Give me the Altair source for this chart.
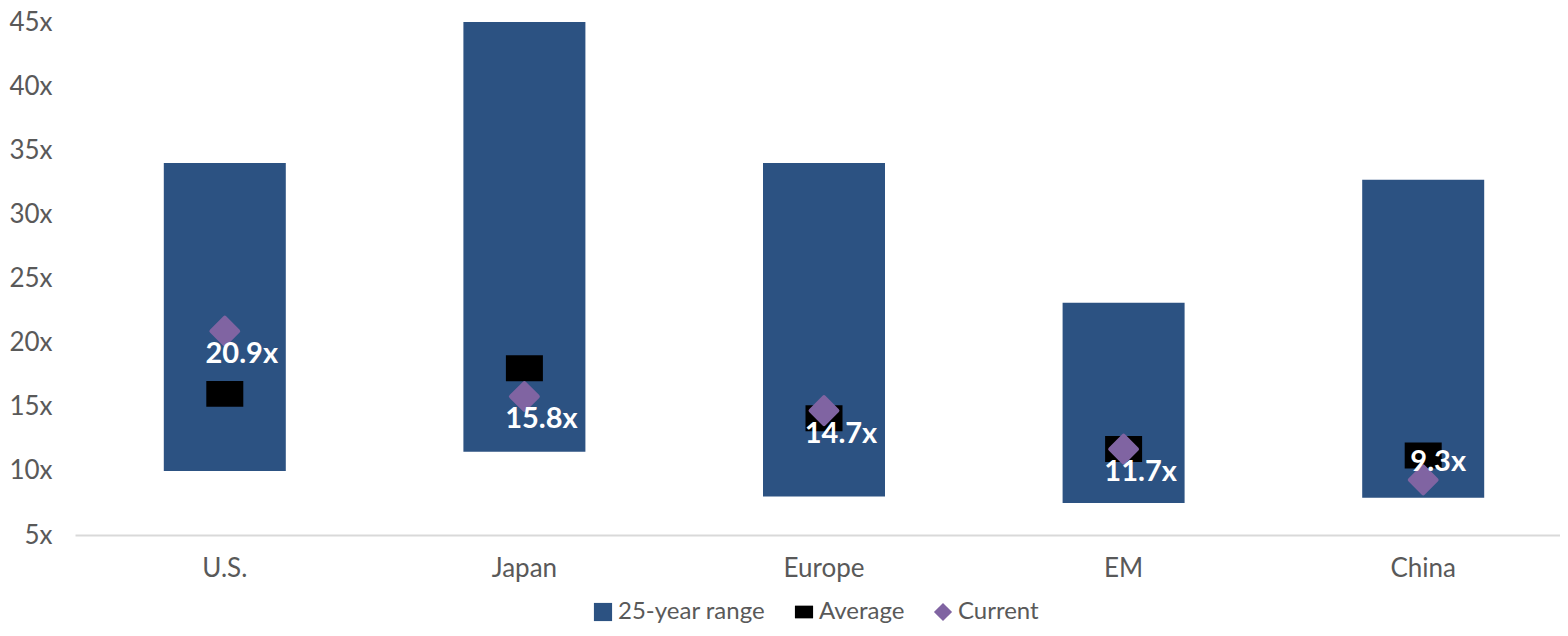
import altair as alt
import pandas as pd

regions = ["U.S.", "Japan", "Europe", "EM", "China"]
range_low = [10.0, 11.5, 8.0, 7.5, 7.9]
range_high = [34.0, 45.0, 34.0, 23.1, 32.7]
average = [16.0, 18.0, 14.1, 11.7, 11.2]
current = [20.9, 15.8, 14.7, 11.7, 9.3]
series_names = ["25-year range", "Average", "Current"]
series_colors = ["#2C5282", "#000000", "#8064A2"]

df = pd.DataFrame({
    "region": regions,
    "low": range_low,
    "high": range_high,
    "average": average,
    "current": current,
})
df["label"] = [f"{v:.1f}x" for v in current]

FONT = "Lato"
GRAY = "#595959"

color_scale = alt.Scale(domain=series_names, range=series_colors)
shape_scale = alt.Scale(
    domain=series_names,
    range=["square", "M-1,-0.7L1,-0.7L1,0.7L-1,0.7Z", "diamond"],
)
legend = alt.Legend(
    title=None,
    orient="none",
    legendX=516,
    legendY=578,
    direction="horizontal",
    labelFont=FONT,
    labelFontSize=24,
    labelColor=GRAY,
    symbolSize=330,
    symbolStrokeWidth=0,
    labelOffset=3,
    columnPadding=26,
)

x_enc = alt.X(
    "region:N",
    sort=regions,
    scale=alt.Scale(paddingInner=0, paddingOuter=0, range=[0, 1498]),
    axis=alt.Axis(
        title=None,
        labelAngle=0,
        labelFont=FONT,
        labelFontSize=26,
        labelColor=GRAY,
        labelPadding=20,
        ticks=False,
        domainColor="#D9D9D9",
        domainWidth=2,
        grid=False,
    ),
)
y_scale = alt.Scale(domain=[5, 45], nice=False, zero=False)
y_axis = alt.Axis(
    title=None,
    values=list(range(5, 50, 5)),
    labelExpr="datum.value + 'x'",
    labelFont=FONT,
    labelFontSize=26,
    labelColor=GRAY,
    labelPadding=23,
    ticks=False,
    domain=False,
    grid=False,
)

base = alt.Chart(df)

bars = base.transform_calculate(series="'25-year range'").mark_bar(size=122).encode(
    x=x_enc,
    y=alt.Y("low:Q", scale=y_scale, axis=y_axis),
    y2="high:Q",
    color=alt.Color("series:N", scale=color_scale, legend=legend),
    shape=alt.Shape("series:N", scale=shape_scale, legend=legend),
)

avg = base.transform_calculate(series="'Average'").mark_point(
    filled=True, size=1369, opacity=1
).encode(
    x=x_enc,
    y=alt.Y("average:Q", scale=y_scale),
    color=alt.Color("series:N", scale=color_scale, legend=legend),
    shape=alt.Shape("series:N", scale=shape_scale, legend=legend),
)

cur = base.transform_calculate(series="'Current'").mark_point(
    filled=True, size=720, opacity=1, stroke="#8064A2", strokeWidth=4, strokeJoin="round"
).encode(
    x=x_enc,
    y=alt.Y("current:Q", scale=y_scale),
    color=alt.Color("series:N", scale=color_scale, legend=legend),
    shape=alt.Shape("series:N", scale=shape_scale, legend=legend),
)

label_style = dict(color="white", font=FONT, fontWeight="bold", fontSize=29,
                   align="center", baseline="middle")

labels_below = base.transform_filter("datum.region != 'China'").mark_text(
    dx=17, dy=23, **label_style
).encode(x=x_enc, y=alt.Y("current:Q", scale=y_scale), text="label:N")

labels_above = base.transform_filter("datum.region == 'China'").mark_text(
    dx=15, dy=-18, **label_style
).encode(x=x_enc, y=alt.Y("current:Q", scale=y_scale), text="label:N")

chart = alt.layer(bars, avg, cur, labels_below, labels_above).properties(
    width=1485,
    height=513,
    autosize=alt.AutoSizeParams(type="none"),
    padding={"left": 67, "top": 14, "right": 0, "bottom": 93},
).configure_view(stroke=None)

chart.save("out.html", embed_options={"renderer": "svg", "actions": False})
